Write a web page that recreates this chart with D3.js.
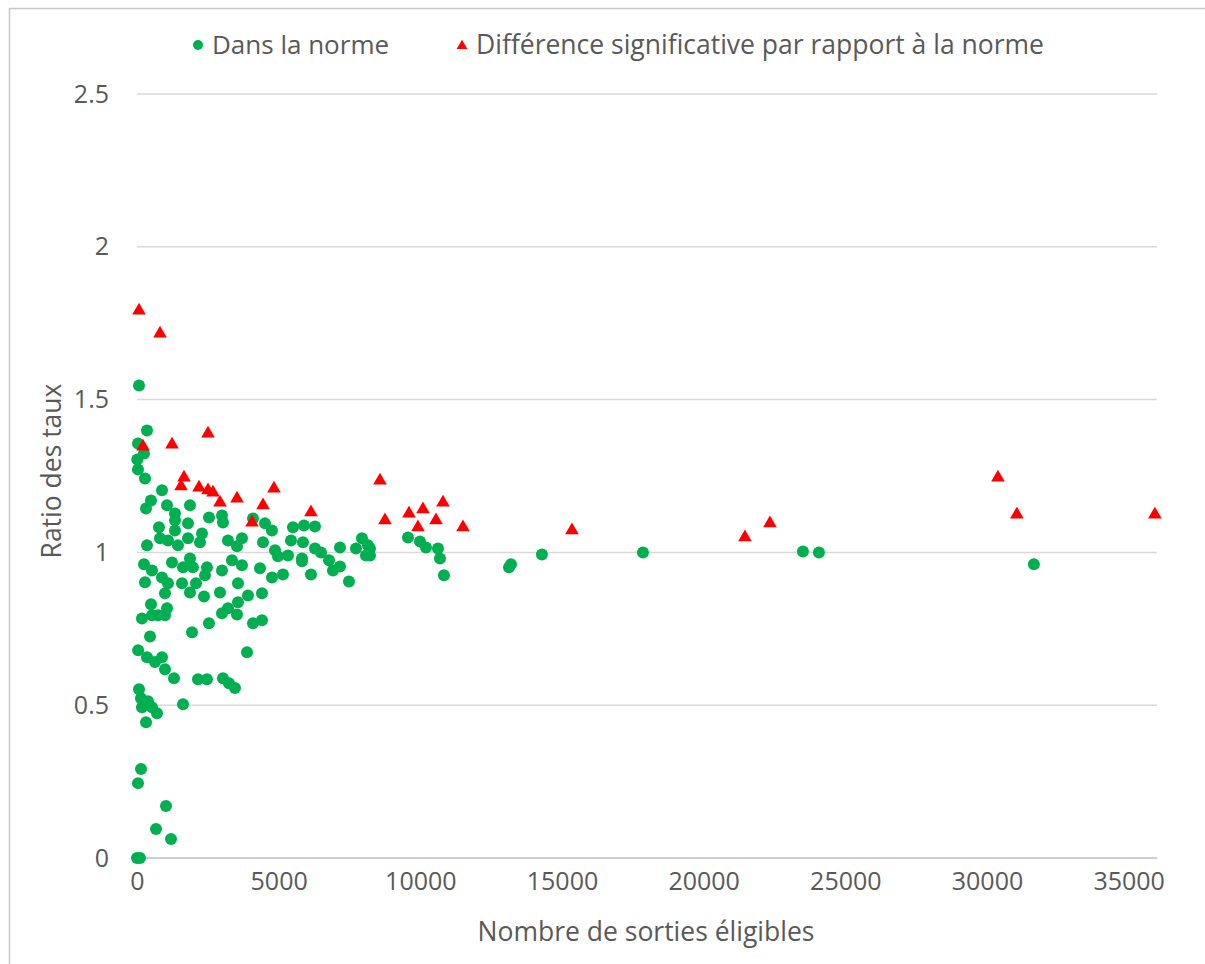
<!DOCTYPE html>
<html>
<head>
<meta charset="utf-8">
<script src="https://cdn.jsdelivr.net/npm/d3@7"></script>
<style>
  body { margin: 0; background: #fff; }
  text { font-family: "Open Sans", "Noto Sans", sans-serif; fill: #595959; }
</style>
</head>
<body>
<div id="chart"></div>
<script>
// series names
var seriesNames = ["Dans la norme", "Différence significative par rapport à la norme"];

// "Dans la norme" points
var normX = [71, 353, 35, 247, 10, 35, 282, 882, 494, 318, 1059, 1870, 1341, 1341, 776, 1800, 1341,
  2541, 3000, 3035, 2294, 812, 1094, 1447, 1800, 2223, 353, 3211, 3705, 3529,
  247, 529, 1235, 1623, 1870, 1976, 2470, 2400, 3000, 3353, 3705, 882, 282, 1094, 1588, 2082, 3564,
  988, 1870, 2364, 2929, 3917, 494, 1059, 176, 529, 741, 988, 3211, 3564, 3000, 3529, 4094, 2541,
  1941, 459, 40, 353, 635, 882, 988, 1306, 2153, 2470, 3035, 3247, 3458, 3882,
  71, 141, 388, 176, 529, 706, 318, 1623, 141, 35, 1023, 671, 1200, 0, 106,
  4411, 4411, 4764, 5152, 4094, 4517, 4764, 4447, 4870, 4976, 5329, 5435, 5505, 5893, 6282,
  5858, 6282, 6493, 5823, 5823, 6776, 6917, 7164, 4341, 6140, 7481, 7164, 7729, 7940, 8152, 8081,
  8223, 8223, 9564, 9987, 10199, 10622, 10693, 10834, 13128, 13199, 14292, 17857, 23503, 24068, 31655];
var normY = [1.546, 1.399, 1.356, 1.324, 1.304, 1.271, 1.242, 1.203, 1.170, 1.144, 1.154, 1.154, 1.127, 1.105, 1.082, 1.095, 1.072,
  1.114, 1.121, 1.098, 1.062, 1.046, 1.039, 1.023, 1.046, 1.033, 1.023, 1.039, 1.046, 1.020,
  0.961, 0.941, 0.967, 0.951, 0.980, 0.951, 0.951, 0.925, 0.941, 0.974, 0.958, 0.918, 0.902, 0.899, 0.899, 0.899, 0.899,
  0.866, 0.869, 0.856, 0.869, 0.859, 0.830, 0.817, 0.784, 0.794, 0.794, 0.794, 0.817, 0.837, 0.801, 0.797, 0.768, 0.768,
  0.739, 0.725, 0.680, 0.657, 0.641, 0.657, 0.618, 0.588, 0.585, 0.585, 0.588, 0.572, 0.556, 0.673,
  0.552, 0.523, 0.513, 0.493, 0.493, 0.474, 0.444, 0.503, 0.291, 0.245, 0.170, 0.095, 0.062, 0, 0,
  0.866, 0.778, 0.918, 0.928, 1.111, 1.095, 1.072, 1.033, 1.007, 0.987, 0.990, 1.039, 1.082, 1.088, 1.085,
  1.033, 1.013, 1.000, 0.980, 0.971, 0.974, 0.941, 0.954, 0.948, 0.928, 0.905, 1.016, 1.013, 1.046, 1.023, 0.990,
  1.013, 0.990, 1.049, 1.036, 1.016, 1.013, 0.980, 0.925, 0.951, 0.961, 0.993, 1.000, 1.003, 1.000, 0.961];

// "Différence significative" points
var diffX = [71, 812, 212, 1235, 2506, 1659, 1553, 2188, 2506, 2682, 2929, 3529, 4058, 4447, 4835, 6140,
  8575, 8752, 9599, 10093, 9916, 10799, 10552, 11505, 15351, 21456, 22338, 30385, 31055, 35925];
var diffY = [1.791, 1.716, 1.346, 1.353, 1.389, 1.245, 1.216, 1.212, 1.203, 1.196, 1.163, 1.176, 1.098, 1.154, 1.209, 1.131,
  1.235, 1.105, 1.127, 1.141, 1.082, 1.163, 1.105, 1.082, 1.072, 1.049, 1.095, 1.245, 1.124, 1.124];

// axes
var xTicks = [0, 5000, 10000, 15000, 20000, 25000, 30000, 35000];
var yTicks = [0, 0.5, 1, 1.5, 2, 2.5];
var xTitle = "Nombre de sorties éligibles";
var yTitle = "Ratio des taux";

var W = 1205, H = 964;
var margin = {top: 94, right: 48, bottom: 106, left: 137},
    width = W - margin.left - margin.right,
    height = H - margin.top - margin.bottom;

var green = "#00b050", red = "#ff0000";

var svgRoot = d3.select("#chart").append("svg")
    .attr("width", W)
    .attr("height", H);

// chart frame
svgRoot.append("rect")
    .attr("x", 9.5).attr("y", 8.5)
    .attr("width", W + 10).attr("height", H + 10)
    .attr("fill", "none")
    .attr("stroke", "#c8c8c8")
    .attr("stroke-width", 1.5);

var svg = svgRoot.append("g")
    .attr("transform", "translate(" + margin.left + "," + margin.top + ")");

var x = d3.scaleLinear().domain([0, 36000]).range([0, width]);
var y = d3.scaleLinear().domain([0, 2.5]).range([height, 0]);

// gridlines
svg.append("g")
    .selectAll("line")
    .data(yTicks)
    .enter().append("line")
    .attr("x1", 0).attr("x2", width)
    .attr("y1", function(d) { return y(d); })
    .attr("y2", function(d) { return y(d); })
    .attr("stroke", function(d) { return d === 0 ? "#bfbfbf" : "#d9d9d9"; })
    .attr("stroke-width", 1.5);

// y axis labels
var yAxis = svg.append("g")
    .call(d3.axisLeft(y).tickValues(yTicks).tickSize(0).tickPadding(28).tickFormat(d3.format("")));
yAxis.select(".domain").remove();
yAxis.selectAll("text").attr("font-size", 25).attr("fill", "#595959");

// x axis labels
var xAxis = svg.append("g")
    .attr("transform", "translate(0," + height + ")")
    .call(d3.axisBottom(x).tickValues(xTicks).tickSize(0).tickPadding(14).tickFormat(d3.format("")));
xAxis.select(".domain").remove();
xAxis.selectAll("text").attr("font-size", 25).attr("fill", "#595959");

// axis titles
svg.append("text")
    .attr("x", 509).attr("y", height + 83)
    .attr("text-anchor", "middle")
    .attr("font-size", 26.5)
    .text(xTitle);

svg.append("text")
    .attr("transform", "translate(-76," + (height / 2 - 5) + ") rotate(-90)")
    .attr("text-anchor", "middle")
    .attr("font-size", 26.5)
    .text(yTitle);

// points
var norm = normX.map(function(d, i) { return {x: d, y: normY[i]}; });
var diff = diffX.map(function(d, i) { return {x: d, y: diffY[i]}; });

svg.append("g")
    .selectAll("circle")
    .data(norm)
    .enter().append("circle")
    .attr("cx", function(d) { return x(d.x); })
    .attr("cy", function(d) { return y(d.y); })
    .attr("r", 6)
    .attr("fill", green);

var tri = d3.symbol().type(d3.symbolTriangle).size(80);
svg.append("g")
    .selectAll("path")
    .data(diff)
    .enter().append("path")
    .attr("d", tri)
    .attr("transform", function(d) { return "translate(" + x(d.x) + "," + y(d.y) + ")"; })
    .attr("fill", red);

// legend
var legend = svgRoot.append("g");
legend.append("circle")
    .attr("cx", 198).attr("cy", 45).attr("r", 5)
    .attr("fill", green);
legend.append("text")
    .attr("x", 212).attr("y", 54)
    .attr("font-size", 26)
    .text(seriesNames[0]);
legend.append("path")
    .attr("d", d3.symbol().type(d3.symbolTriangle).size(50))
    .attr("transform", "translate(462,46)")
    .attr("fill", red);
legend.append("text")
    .attr("x", 476).attr("y", 54)
    .attr("font-size", 26.5)
    .text(seriesNames[1]);
</script>
</body>
</html>
